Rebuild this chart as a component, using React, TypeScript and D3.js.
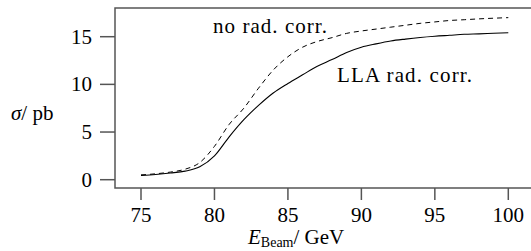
import React, { useEffect, useRef } from "react";
import * as d3 from "d3";

// beam energy in GeV
const energies = [
  75, 76, 77, 78, 79, 80, 81, 82, 83, 84, 85, 86, 87, 88, 89, 90, 91, 92, 93,
  94, 95, 96, 97, 98, 99, 100,
];
// cross section in pb, LLA radiative corrections
const sigmaLLA = [
  0.45, 0.55, 0.7, 0.9, 1.35, 2.5, 4.5, 6.3, 7.8, 9.1, 10.1, 11.0, 11.9, 12.6,
  13.35, 13.9, 14.25, 14.55, 14.75, 14.92, 15.05, 15.15, 15.25, 15.3, 15.36,
  15.42,
];
// cross section in pb, no radiative corrections
const sigmaNoRad = [
  0.5, 0.62, 0.8, 1.1, 1.8, 3.5, 5.8, 7.5, 9.6, 11.5, 12.9, 13.9, 14.5, 14.9,
  15.35, 15.6, 15.8, 16.0, 16.2, 16.4, 16.55, 16.7, 16.78, 16.87, 16.94, 17.0,
];
const xTicks = [75, 80, 85, 90, 95, 100];
const yTicks = [0, 5, 10, 15];

const W = 531;
const H = 251;
const FONT = "'Liberation Serif', 'Times New Roman', serif";

const App = () => {
  const svgRef = useRef<SVGSVGElement>(null);

  useEffect(() => {
    const svg = d3.select(svgRef.current);
    svg.selectAll("*").remove();

    const left = 115;
    const top = 8;
    const bottom = 188;

    const x = d3.scaleLinear().domain([75, 100]).range([141, 508.3]);
    const y = d3.scaleLinear().domain([0, 15]).range([179.7, 36.7]);

    const axisColor = "#555";

    // frame: left, top, bottom (right side open past the window)
    svg
      .append("path")
      .attr("d", `M${W},${top}H${left}V${bottom}H${W}`)
      .attr("fill", "none")
      .attr("stroke", axisColor)
      .attr("stroke-width", 1.5);

    // x ticks
    const xg = svg.append("g");
    xg.selectAll("line")
      .data(xTicks)
      .join("line")
      .attr("x1", (d) => x(d))
      .attr("x2", (d) => x(d))
      .attr("y1", bottom)
      .attr("y2", bottom + 12)
      .attr("stroke", axisColor)
      .attr("stroke-width", 1.5);
    xg.selectAll("text")
      .data(xTicks)
      .join("text")
      .attr("x", (d) => x(d))
      .attr("y", 222)
      .attr("text-anchor", "middle")
      .style("font-family", FONT)
      .style("font-size", "21px")
      .text((d) => d);

    // y ticks
    const yg = svg.append("g");
    yg.selectAll("line")
      .data(yTicks)
      .join("line")
      .attr("x1", left - 15)
      .attr("x2", left)
      .attr("y1", (d) => y(d))
      .attr("y2", (d) => y(d))
      .attr("stroke", axisColor)
      .attr("stroke-width", 1.5);
    yg.selectAll("text")
      .data(yTicks)
      .join("text")
      .attr("x", 92)
      .attr("y", (d) => y(d) + 6.8)
      .attr("text-anchor", "end")
      .style("font-family", FONT)
      .style("font-size", "21px")
      .text((d) => d);

    const line = d3
      .line<number>()
      .x((_, i) => x(energies[i]))
      .y((d) => y(d))
      .curve(d3.curveMonotoneX);

    svg
      .append("path")
      .datum(sigmaNoRad)
      .attr("d", line)
      .attr("fill", "none")
      .attr("stroke", "#000")
      .attr("stroke-width", 1)
      .attr("stroke-dasharray", "5,4");

    svg
      .append("path")
      .datum(sigmaLLA)
      .attr("d", line)
      .attr("fill", "none")
      .attr("stroke", "#000")
      .attr("stroke-width", 1.1);

    // curve labels
    svg
      .append("text")
      .attr("x", 213)
      .attr("y", 33)
      .attr("textLength", 114)
      .style("font-family", FONT)
      .style("font-size", "21px")
      .text("no rad. corr.");
    svg
      .append("text")
      .attr("x", 337)
      .attr("y", 82)
      .attr("textLength", 135)
      .style("font-family", FONT)
      .style("font-size", "21px")
      .text("LLA rad. corr.");

    // y axis label
    const yl = svg
      .append("text")
      .attr("x", 11)
      .attr("y", 120)
      .style("font-family", FONT)
      .style("font-size", "21px");
    yl.append("tspan").style("font-style", "italic").text("σ");
    yl.append("tspan").text("/ pb");

    // x axis label
    const xl = svg
      .append("text")
      .attr("x", 248)
      .attr("y", 244)
      .style("font-family", FONT)
      .style("font-size", "21px");
    xl.append("tspan").style("font-style", "italic").text("E");
    xl.append("tspan")
      .attr("dy", 3)
      .style("font-size", "14px")
      .text("Beam");
    xl.append("tspan").attr("dy", -3).text("/ GeV");
  }, []);

  return (
    <svg
      ref={svgRef}
      width={W}
      height={H}
      style={{ position: "absolute", left: 0, top: 0, background: "#fff" }}
    />
  );
};

export default App;
